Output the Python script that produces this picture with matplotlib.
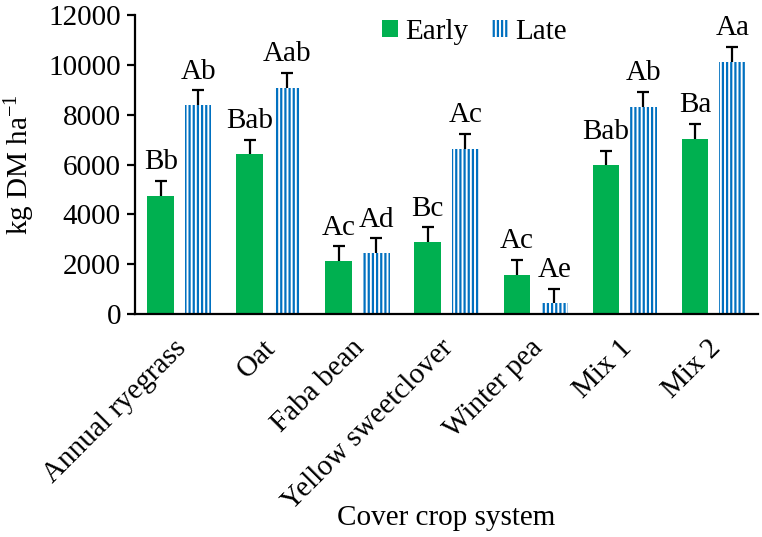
import matplotlib.pyplot as plt
import matplotlib.transforms as mtransforms
import numpy as np

"""Cover crop biomass, early vs late termination
"""

plt.rcParams['font.family'] = ['Liberation Serif', 'DejaVu Serif']
plt.rcParams['mathtext.default'] = 'regular'
plt.rcParams['hatch.linewidth'] = 1.6

crops = ["Annual ryegrass", "Oat", "Faba bean", "Yellow sweetclover",
         "Winter pea", "Mix 1", "Mix 2"]
early = [4750, 6410, 2130, 2880, 1590, 5970, 7040]
late = [8400, 9090, 2440, 6640, 430, 8330, 10130]
early_err = [600, 590, 600, 600, 600, 590, 590]
late_err = [580, 590, 600, 600, 580, 600, 600]
early_labels = ["Bb", "Bab", "Ac", "Bc", "Ac", "Bab", "Ba"]
late_labels = ["Ab", "Aab", "Ad", "Ac", "Ae", "Ab", "Aa"]

green = "#00B050"
blue = "#0070C0"
fs = 21


def draw_group(ax, x, vals, errs, labels, **style):
    ax.bar(x, vals, width=0.3, linewidth=0, zorder=3, **style)
    # lower half of each error bar sits behind the bar
    ax.errorbar(x, vals, yerr=errs, fmt="none", ecolor="black",
                elinewidth=1.6, capsize=4, capthick=1.6, zorder=2)
    for xi, v, e, lab in zip(x, vals, errs, labels):
        ax.annotate(lab, (xi, v + e), xytext=(0, 4), textcoords="offset points",
                    ha="center", va="bottom", fontsize=fs)


fig = plt.figure(figsize=(7.62, 5.37), dpi=100)
ax = fig.add_axes([0.177, 0.415, 0.818, 0.557])

x = np.arange(len(crops))
draw_group(ax, x - 0.21, early, early_err, early_labels, color=green, label="Early")
draw_group(ax, x + 0.21, late, late_err, late_labels, color="white",
           edgecolor=blue, hatch="||||", label="Late")

ax.set_xlim(-0.5, len(crops) - 0.5)
ax.set_ylim(0, 12000)
ax.set_yticks(range(0, 12001, 2000))
ax.set_xticks(x)
ax.set_xticklabels([])
# category names drawn by hand so they can sit a little left of the tick
trans = mtransforms.blended_transform_factory(ax.transData, ax.transAxes)
trans = trans + mtransforms.ScaledTranslation(-4.5 / 72, -15 / 72, fig.dpi_scale_trans)
for xi, name in zip(x, crops):
    ax.text(xi, 0, name, transform=trans, rotation=45, ha="right", va="top",
            rotation_mode="anchor", fontsize=fs)
ax.tick_params(axis="y", labelsize=fs, width=1.6, length=6, pad=4)
ax.tick_params(axis="x", length=0)
for side in ["top", "right"]:
    ax.spines[side].set_visible(False)
ax.spines["left"].set_linewidth(1.6)
ax.spines["bottom"].set_linewidth(1.6)
ax.spines["left"].set_zorder(4)
ax.spines["bottom"].set_zorder(4)

ax.set_ylabel("kg DM ha$^{-1}$", fontsize=fs, labelpad=8)
fig.text(0.586, 0.012, "Cover crop system", ha="center", va="bottom", fontsize=fs)

ax.legend(loc="upper center", bbox_to_anchor=(0.545, 1.075), ncol=2, frameon=False,
          fontsize=fs, handlelength=0.55, handleheight=0.55, columnspacing=0.8,
          handletextpad=0.25)

fig.savefig("out.png", dpi=100)
